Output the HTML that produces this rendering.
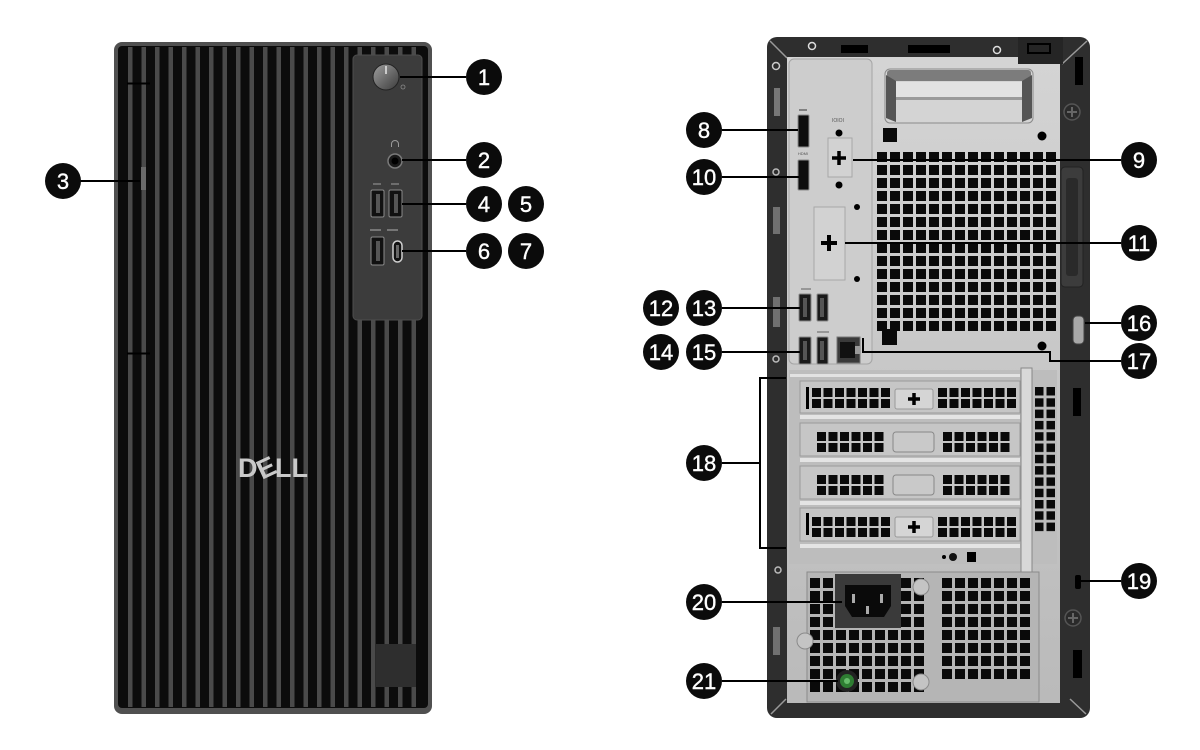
<!DOCTYPE html>
<html><head><meta charset="utf-8"><style>
html,body{margin:0;padding:0;background:#fff;width:1200px;height:750px;overflow:hidden}
svg{display:block}
.c{fill:#0b0b0b}
.n{font-family:"Liberation Sans",sans-serif;font-size:22px;fill:#fff;text-anchor:middle;stroke:#fff;stroke-width:0.4}
.l{stroke:#000;stroke-width:2;fill:none}
</style></head><body>
<svg width="1200" height="750" viewBox="0 0 1200 750" xmlns="http://www.w3.org/2000/svg">
<defs>
<pattern id="st" x="128" y="0" width="13.5" height="10" patternUnits="userSpaceOnUse"><rect width="4.5" height="10" fill="#4a4a4a"/></pattern>
<pattern id="vg" width="13" height="13" patternUnits="userSpaceOnUse"><rect width="10" height="10" fill="#0a0a0a"/></pattern>
<pattern id="sg" width="11.5" height="11" patternUnits="userSpaceOnUse"><rect width="9" height="9" fill="#0a0a0a"/></pattern>
<pattern id="rg" width="11.5" height="11.3" patternUnits="userSpaceOnUse"><rect width="8.5" height="8.5" fill="#0a0a0a"/></pattern>
<linearGradient id="pb" x1="0" y1="0" x2="1" y2="1"><stop offset="0" stop-color="#a0a0a0"/><stop offset="1" stop-color="#3a3a3a"/></linearGradient>
<linearGradient id="sv" x1="0" y1="0" x2="0" y2="1"><stop offset="0" stop-color="#d4d4d4"/><stop offset="1" stop-color="#bababa"/></linearGradient>
</defs>

<!-- FRONT TOWER -->
<rect x="114" y="42" width="318" height="672" rx="8" fill="#505050"/>
<rect x="118" y="46" width="310" height="662" rx="4" fill="#0c0c0c"/>
<rect x="120" y="47" width="300" height="660" fill="url(#st)"/>
<path d="M127 83.5H150M127 353.5H150" stroke="#000" stroke-width="2"/>
<rect x="141" y="167" width="5" height="23" fill="#6a6a6a"/>

<!-- front panel -->
<rect x="353" y="55" width="69" height="265" rx="4" fill="#3c3c3c" stroke="#4e4e4e"/>
<circle cx="386" cy="77" r="13" fill="url(#pb)" stroke="#222"/>
<path d="M386 66V74" stroke="#e6e6e6" stroke-width="1.5"/>
<circle cx="403" cy="87" r="2" fill="none" stroke="#8a8a8a" stroke-width="0.8"/>
<path d="M391.5 147v-3a3.5 3.5 0 0 1 7 0v3" stroke="#9a9a9a" fill="none"/>
<circle cx="395" cy="161" r="7" fill="#1a1a1a" stroke="#7a7a7a" stroke-width="1.5"/>
<circle cx="395" cy="161" r="3.5" fill="#000"/>
<path d="M373 184h8M391 184h8" stroke="#8a8a8a" stroke-width="1.2"/>
<rect x="371" y="190" width="13" height="27" rx="1.5" fill="#111" stroke="#8a8a8a"/>
<rect x="376" y="194" width="4" height="19" fill="#555"/>
<rect x="389" y="190" width="13" height="27" rx="1.5" fill="#111" stroke="#8a8a8a"/>
<rect x="394" y="194" width="4" height="19" fill="#555"/>
<path d="M370 230h11M387 230h11" stroke="#8a8a8a" stroke-width="1.5"/>
<rect x="371" y="237" width="13" height="28" rx="1.5" fill="#111" stroke="#8a8a8a"/>
<rect x="376" y="241" width="4" height="20" fill="#555"/>
<rect x="393" y="241" width="9" height="21" rx="4.5" fill="#111" stroke="#d0d0d0" stroke-width="1.5"/>
<rect x="396" y="245" width="3" height="13" fill="#666"/>

<!-- DELL logo -->
<g font-family="Liberation Sans, sans-serif" font-weight="bold" font-size="27" fill="#c9c9c9">
<text x="238" y="477">D</text>
<text x="266" y="477" text-anchor="middle" transform="rotate(-25 266 467)">E</text>
<text x="275" y="477">LL</text>
</g>
<rect x="376" y="644" width="40" height="43" fill="#2e2e2e"/>

<!-- BACK TOWER -->
<rect x="767" y="37" width="323" height="681" rx="10" fill="#2e2e2e"/>
<rect x="787" y="57" width="273" height="646" fill="url(#sv)"/>
<path d="M770 41L787 58M1087 41L1062 64M771 714L786 699M1086 714L1070 699" stroke="#9a9a9a" stroke-width="1.5"/>
<!-- top band -->
<rect x="841" y="45" width="27" height="8" fill="#000"/>
<rect x="908" y="45" width="42" height="8" fill="#000"/>
<circle cx="812" cy="46" r="3.5" fill="none" stroke="#ddd" stroke-width="1.5"/>
<circle cx="997" cy="50" r="3.5" fill="none" stroke="#ddd" stroke-width="1.5"/>
<rect x="1018" y="37" width="45" height="27" fill="#252525"/>
<rect x="1028" y="44" width="22" height="9" fill="none" stroke="#000" stroke-width="2"/>
<!-- left band -->
<circle cx="776" cy="66" r="3.5" fill="none" stroke="#ccc" stroke-width="1.5"/>
<rect x="774" y="88" width="6" height="28" fill="#777"/>
<circle cx="776" cy="172" r="3" fill="none" stroke="#bbb" stroke-width="1.5"/>
<rect x="773" y="207" width="7" height="27" fill="#707070"/>
<rect x="773" y="297" width="7" height="30" fill="#707070"/>
<circle cx="776" cy="359" r="3" fill="none" stroke="#bbb" stroke-width="1.5"/>
<circle cx="778" cy="570" r="3" fill="none" stroke="#bbb" stroke-width="1.5"/>
<rect x="773" y="627" width="7" height="28" fill="#707070"/>
<!-- right band -->
<rect x="1075" y="57" width="8" height="28" fill="#000"/>
<circle cx="1072" cy="112" r="8" fill="#2a2a2a" stroke="#555" stroke-width="1.5"/>
<path d="M1072 107v10M1067 112h10" stroke="#666" stroke-width="2"/>
<rect x="1061" y="167" width="22" height="120" rx="4" fill="#3c3c3c" stroke="#222"/>
<rect x="1066" y="178" width="12" height="98" rx="3" fill="#2a2a2a"/>
<rect x="1073" y="316" width="11" height="28" rx="4" fill="#a8a8a8" stroke="#444"/>
<rect x="1073" y="388" width="8" height="28" fill="#000"/>
<rect x="1075" y="575" width="6" height="14" rx="2" fill="#000"/>
<circle cx="1073" cy="618" r="8" fill="#2a2a2a" stroke="#555" stroke-width="1.5"/>
<path d="M1073 613v10M1068 618h10" stroke="#666" stroke-width="2"/>
<rect x="1073" y="650" width="9" height="28" fill="#000"/>

<!-- I/O panel -->
<rect x="789" y="59" width="83" height="305" rx="5" fill="#cdcdcd" stroke="#a5a5a5"/>
<!-- handle recess -->
<rect x="885" y="69" width="148" height="54" rx="5" fill="#d4d4d4" stroke="#8a8a8a"/>
<rect x="887" y="70" width="144" height="11" rx="3" fill="#7c7c7c"/>
<rect x="895" y="82" width="128" height="15" fill="#e2e2e2"/>
<rect x="895" y="97" width="128" height="3" fill="#9a9a9a"/>
<path d="M886 75L896 81V122L886 118Z" fill="#555"/>
<path d="M1032 75L1022 81V122L1032 118Z" fill="#555"/>
<g transform="translate(877,152)"><rect width="179" height="179" fill="url(#vg)"/></g>
<rect x="883" y="128" width="14" height="14" fill="#0a0a0a"/>
<circle cx="839" cy="133" r="3.5" fill="#000"/>
<circle cx="839" cy="185" r="3.5" fill="#000"/>
<circle cx="857" cy="207" r="3" fill="#000"/>
<circle cx="857" cy="279" r="3" fill="#000"/>
<circle cx="1042" cy="136" r="4.5" fill="#000"/>
<circle cx="1042" cy="346" r="4.5" fill="#000"/>
<text x="838" y="122" font-family="Liberation Sans, sans-serif" font-size="5" fill="#555" text-anchor="middle">IOIOI</text>
<text x="803" y="155" font-family="Liberation Sans, sans-serif" font-size="4" fill="#555" text-anchor="middle">HDMI</text>
<path d="M799 110h8" stroke="#666" stroke-width="1.5"/>
<rect x="798" y="115" width="11" height="32" rx="1" fill="#0d0d0d" stroke="#8c8c8c"/>
<rect x="798" y="160" width="11" height="30" rx="1" fill="#0d0d0d" stroke="#8c8c8c"/>
<rect x="828" y="138" width="24" height="39" fill="#d2d2d2" stroke="#a8a8a8"/>
<path d="M839 151v14M832 158h14" stroke="#000" stroke-width="3.5"/>
<rect x="814" y="207" width="31" height="73" fill="#d2d2d2" stroke="#a8a8a8"/>
<path d="M829 235v16M821 243h16" stroke="#000" stroke-width="4"/>
<path d="M801 289h10M817 332h12" stroke="#777" stroke-width="1.2"/>
<rect x="799" y="294" width="12" height="27" rx="1" fill="#1a1a1a" stroke="#888"/>
<rect x="817" y="294" width="11" height="27" rx="1" fill="#1a1a1a" stroke="#888"/>
<rect x="799" y="337" width="12" height="27" rx="1" fill="#1a1a1a" stroke="#888"/>
<rect x="817" y="337" width="11" height="27" rx="1" fill="#1a1a1a" stroke="#888"/>
<rect x="803" y="298" width="4" height="19" fill="#555"/>
<rect x="820" y="298" width="4" height="19" fill="#555"/>
<rect x="803" y="341" width="4" height="19" fill="#555"/>
<rect x="820" y="341" width="4" height="19" fill="#555"/>
<rect x="837" y="337" width="23" height="26" fill="#3a3a3a" stroke="#777"/>
<rect x="840" y="342" width="15" height="16" fill="#111"/>
<rect x="855" y="346" width="5" height="8" fill="#9a9a9a"/>
<rect x="882" y="329" width="15" height="16" fill="#0a0a0a"/>

<!-- PCIe slots -->
<rect x="789" y="370" width="268" height="194" fill="#bdbdbd"/>
<rect x="790" y="374" width="230" height="3" fill="#e2e2e2"/>
<rect x="800" y="381" width="220" height="32" fill="#c6c6c6" stroke="#9a9a9a"/>
<rect x="806" y="387" width="3" height="22" fill="#000"/>
<g transform="translate(812,388)"><rect width="79" height="20" fill="url(#sg)"/></g>
<rect x="895" y="389" width="38" height="20" rx="2" fill="#d5d5d5" stroke="#999"/>
<path d="M914 393v12M908 399h12" stroke="#000" stroke-width="3.5"/>
<g transform="translate(938,388)"><rect width="79" height="20" fill="url(#sg)"/></g>
<rect x="800" y="415" width="220" height="4" fill="#e4e4e4"/>
<rect x="800" y="423" width="220" height="33" fill="#c6c6c6" stroke="#9a9a9a"/>
<g transform="translate(817,432)"><rect width="67" height="20" fill="url(#sg)"/></g>
<rect x="893" y="432" width="41" height="20" rx="3" fill="#c9c9c9" stroke="#888"/>
<g transform="translate(943,432)"><rect width="67" height="20" fill="url(#sg)"/></g>
<rect x="800" y="458" width="220" height="4" fill="#e4e4e4"/>
<rect x="800" y="466" width="220" height="33" fill="#c6c6c6" stroke="#9a9a9a"/>
<g transform="translate(817,475)"><rect width="67" height="20" fill="url(#sg)"/></g>
<rect x="893" y="475" width="41" height="20" rx="3" fill="#c9c9c9" stroke="#888"/>
<g transform="translate(943,475)"><rect width="67" height="20" fill="url(#sg)"/></g>
<rect x="800" y="501" width="220" height="4" fill="#e4e4e4"/>
<rect x="800" y="508" width="220" height="33" fill="#c6c6c6" stroke="#9a9a9a"/>
<rect x="806" y="513" width="3" height="22" fill="#000"/>
<g transform="translate(812,517)"><rect width="79" height="20" fill="url(#sg)"/></g>
<rect x="895" y="517" width="38" height="20" rx="2" fill="#d5d5d5" stroke="#999"/>
<path d="M914 521v12M908 527h12" stroke="#000" stroke-width="3.5"/>
<g transform="translate(938,517)"><rect width="79" height="20" fill="url(#sg)"/></g>
<rect x="800" y="544" width="220" height="4" fill="#e4e4e4"/>
<rect x="1021" y="368" width="11" height="204" fill="#d8d8d8" stroke="#888"/>
<g transform="translate(1035,387)"><rect width="20" height="145" fill="url(#rg)"/></g>
<circle cx="944" cy="557" r="2" fill="#000"/>
<circle cx="953" cy="557" r="4" fill="#111"/>
<rect x="967" y="552" width="9" height="10" fill="#000"/>

<!-- PSU -->
<rect x="807" y="572" width="232" height="130" fill="#b5b5b5" stroke="#8a8a8a"/>
<g transform="translate(810,578)"><rect width="114" height="114" fill="url(#vg)"/></g>
<g transform="translate(942,578)"><rect width="88" height="101" fill="url(#vg)"/></g>
<rect x="835" y="574" width="66" height="54" fill="#3a3a3a"/>
<path d="M845 585H891V606L884 617H852L845 606Z" fill="#0a0a0a"/>
<rect x="852" y="594" width="3" height="9" fill="#aaa"/>
<rect x="880" y="594" width="3" height="9" fill="#aaa"/>
<rect x="866" y="606" width="3" height="8" fill="#aaa"/>
<circle cx="921" cy="587" r="8" fill="#c4c4c4" stroke="#8a8a8a"/>
<circle cx="921" cy="682" r="8" fill="#c4c4c4" stroke="#8a8a8a"/>
<circle cx="805" cy="641" r="8" fill="#c4c4c4" stroke="#8a8a8a"/>
<circle cx="847" cy="681" r="11" fill="#222"/>
<circle cx="847" cy="681" r="7" fill="#2e7d32"/>
<circle cx="847" cy="681" r="3" fill="#66bb6a"/>

<!-- CONNECTOR LINES -->
<path class="l" d="M400 77H466M402 160H466M402 204H466M402 251H466M80 181H140"/>
<path class="l" d="M722 130H798M722 177H799M853 160H1121M845 243H1121M722 308H800M722 352H800M1085 323H1121M863 338V352H1050V361H1121M722 463H760M786 378H760V548H786M1080 581H1121M722 602H842M722 681H838"/>

<!-- CALLOUTS -->
<g>
<circle class="c" cx="484" cy="77" r="18"/><text class="n" x="484" y="85">1</text>
<circle class="c" cx="484" cy="160" r="18"/><text class="n" x="484" y="168">2</text>
<circle class="c" cx="63" cy="181" r="18"/><text class="n" x="63" y="189">3</text>
<circle class="c" cx="484" cy="204" r="18"/><text class="n" x="484" y="212">4</text>
<circle class="c" cx="526" cy="204" r="18"/><text class="n" x="526" y="212">5</text>
<circle class="c" cx="484" cy="251" r="18"/><text class="n" x="484" y="259">6</text>
<circle class="c" cx="526" cy="251" r="18"/><text class="n" x="526" y="259">7</text>
<circle class="c" cx="704" cy="130" r="18"/><text class="n" x="704" y="138">8</text>
<circle class="c" cx="1139" cy="160" r="18"/><text class="n" x="1139" y="168">9</text>
<circle class="c" cx="704" cy="177" r="18"/><text class="n" x="704" y="185">10</text>
<circle class="c" cx="1139" cy="243" r="18"/><text class="n" x="1139" y="251">11</text>
<circle class="c" cx="661" cy="308" r="18"/><text class="n" x="661" y="316">12</text>
<circle class="c" cx="704" cy="308" r="18"/><text class="n" x="704" y="316">13</text>
<circle class="c" cx="661" cy="352" r="18"/><text class="n" x="661" y="360">14</text>
<circle class="c" cx="704" cy="352" r="18"/><text class="n" x="704" y="360">15</text>
<circle class="c" cx="1139" cy="323" r="18"/><text class="n" x="1139" y="331">16</text>
<circle class="c" cx="1139" cy="361" r="18"/><text class="n" x="1139" y="369">17</text>
<circle class="c" cx="704" cy="463" r="18"/><text class="n" x="704" y="471">18</text>
<circle class="c" cx="1139" cy="581" r="18"/><text class="n" x="1139" y="589">19</text>
<circle class="c" cx="704" cy="602" r="18"/><text class="n" x="704" y="610">20</text>
<circle class="c" cx="704" cy="681" r="18"/><text class="n" x="704" y="689">21</text>
</g>
</svg>
</body></html>
